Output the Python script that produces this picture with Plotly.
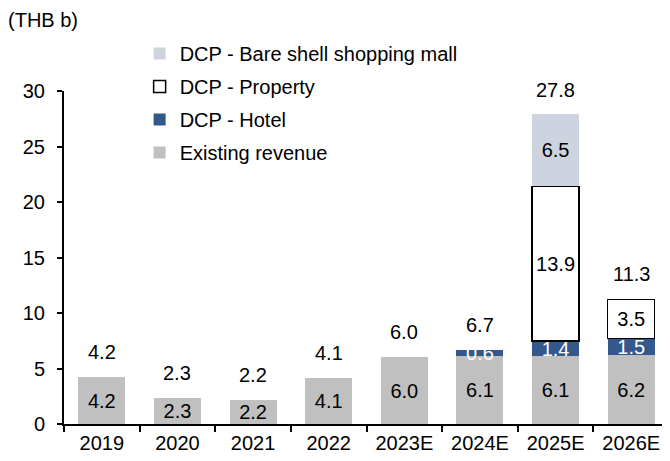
import plotly.graph_objects as go

years = ["2019", "2020", "2021", "2022", "2023E", "2024E", "2025E", "2026E"]
existing = [4.2, 2.3, 2.2, 4.1, 6.0, 6.1, 6.1, 6.2]
hotel = [None, None, None, None, None, 0.6, 1.4, 1.5]
prop = [None, None, None, None, None, None, 13.9, 3.5]
bare = [None, None, None, None, None, None, 6.5, None]
totals = [4.2, 2.3, 2.2, 4.1, 6.0, 6.7, 27.8, 11.3]

FONT = "Liberation Sans, Arial, sans-serif"
FS = 20
fig = go.Figure()

def lab(vals):
    return [("" if v is None else f"{v:.1f}") for v in vals]

def add(vals, name, color, line, tcolor, rank):
    fig.add_trace(go.Bar(x=years, y=vals, name=name,
                         marker=dict(color=color, line=line),
                         text=lab(vals), textposition="inside", insidetextanchor="middle",
                         textangle=0,
                         textfont=dict(color=tcolor, size=FS), constraintext="none",
                         legendgroup=name, legendrank=rank))

add(existing, "Existing revenue", "#C0C0C0", dict(width=0), "black", 4)
add(hotel, "DCP - Hotel", "#34578C", dict(width=0), "white", 3)
add(prop, "DCP - Property", "white", dict(width=1.5, color="black"), "black", 2)
add(bare, "DCP - Bare shell shopping mall", "#CDD4E0", dict(width=0), "black", 1)

for i, t in enumerate(totals):
    fig.add_annotation(x=i, y=t, text=f"{t:.1f}", showarrow=False,
                       yshift=25, font=dict(size=FS, color="black", family=FONT))

fig.add_annotation(xref="paper", yref="paper", x=-0.096, y=1.213, xanchor="left",
                   yanchor="middle", text="(THB b)", showarrow=False,
                   font=dict(size=FS, color="black", family=FONT))

# page body has an 8px default margin, so the figure is sized/offset to compensate
fig.update_layout(
    width=662, height=453,
    barmode="stack", bargap=0.38,
    plot_bgcolor="white", paper_bgcolor="white",
    margin=dict(l=56, r=1, t=83, b=37),
    font=dict(family=FONT, size=FS, color="black"),
    legend=dict(xref="paper", yref="paper", x=0.125, y=1.171,
                xanchor="left", yanchor="top",
                traceorder="grouped", tracegroupgap=4,
                bgcolor="rgba(0,0,0,0)", font=dict(size=FS),
                itemwidth=30),
    showlegend=True,
)
fig.update_xaxes(showline=True, linecolor="black", linewidth=2,
                 ticks="outside", tickson="boundaries", ticklen=6, tickwidth=2,
                 tickcolor="black", showgrid=False, range=[-0.5, 7.5],
                 tickangle=0, tickfont=dict(size=FS), automargin=False)
fig.update_yaxes(showline=True, linecolor="black", linewidth=2,
                 ticks="outside", ticklen=5, tickwidth=1.5, tickcolor="black",
                 showgrid=False, range=[0, 30], dtick=5, zeroline=False,
                 tickfont=dict(size=FS), ticklabelstandoff=8, automargin=False)

fig.write_html("out.html")
